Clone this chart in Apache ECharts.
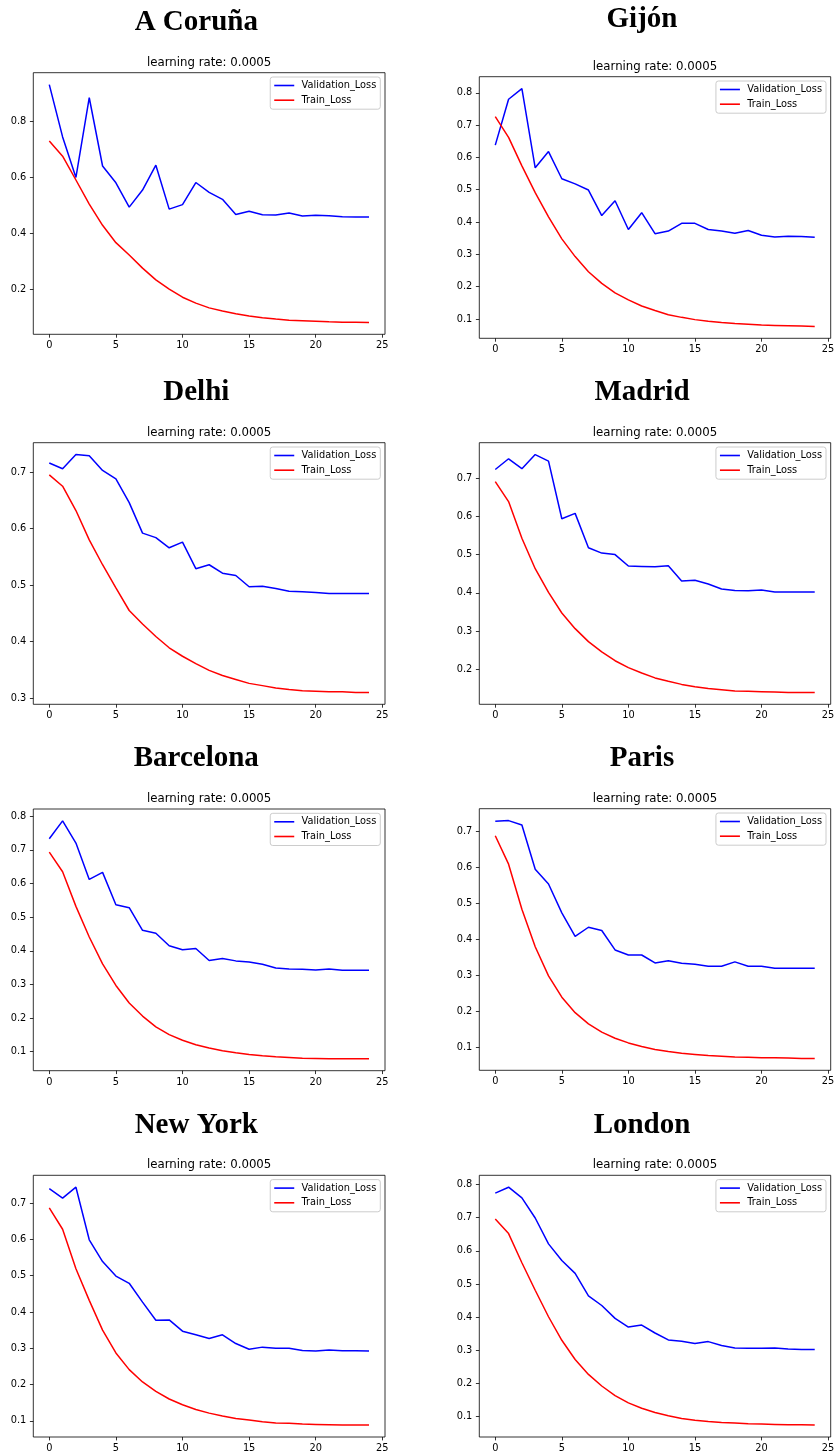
<!DOCTYPE html>
<html><head><meta charset="utf-8">
<script src="https://cdn.jsdelivr.net/npm/echarts@6/dist/echarts.min.js"></script>
<style>html,body{margin:0;padding:0;background:#fff}#c{width:835px;height:1454px}</style>
</head><body><div id="c"></div>
<script>
// ---------- data ----------
const epochs = [0,1,2,3,4,5,6,7,8,9,10,11,12,13,14,15,16,17,18,19,20,21,22,23,24];
const subtitle = 'learning rate: 0.0005';
const seriesNames = ['Validation_Loss', 'Train_Loss'];
const xTicks = [0,5,10,15,20,25];

const cityNames = ['A Coruña','Gijón','Delhi','Madrid','Barcelona','Paris','New York','London'];

const valCoruna   = [0.931,0.744,0.599,0.884,0.640,0.580,0.493,0.554,0.643,0.486,0.502,0.581,0.546,0.521,0.467,0.478,0.466,0.465,0.472,0.461,0.464,0.462,0.459,0.458,0.458];
const trainCoruna = [0.729,0.675,0.590,0.504,0.428,0.366,0.322,0.275,0.233,0.200,0.171,0.150,0.133,0.122,0.112,0.104,0.098,0.093,0.089,0.087,0.085,0.083,0.082,0.082,0.081];
const yTicksCoruna = [0.2,0.4,0.6,0.8];

const valGijon   = [0.638,0.780,0.813,0.568,0.618,0.534,0.518,0.499,0.420,0.466,0.377,0.429,0.364,0.372,0.396,0.396,0.377,0.372,0.365,0.374,0.359,0.354,0.356,0.355,0.353];
const trainGijon = [0.726,0.662,0.574,0.491,0.416,0.348,0.293,0.246,0.210,0.181,0.159,0.140,0.126,0.113,0.105,0.098,0.093,0.089,0.086,0.084,0.081,0.080,0.079,0.078,0.077];
const yTicksGijon = [0.1,0.2,0.3,0.4,0.5,0.6,0.7,0.8];

const valDelhi   = [0.716,0.706,0.731,0.729,0.703,0.688,0.646,0.592,0.584,0.566,0.576,0.529,0.536,0.521,0.517,0.497,0.498,0.494,0.489,0.488,0.487,0.485,0.485,0.485,0.485];
const trainDelhi = [0.695,0.675,0.632,0.580,0.536,0.495,0.455,0.431,0.409,0.389,0.374,0.361,0.349,0.340,0.333,0.326,0.322,0.318,0.315,0.313,0.312,0.311,0.311,0.310,0.310];
const yTicksDelhi = [0.3,0.4,0.5,0.6,0.7];

const valMadrid   = [0.723,0.751,0.725,0.762,0.745,0.594,0.608,0.518,0.504,0.500,0.470,0.469,0.468,0.471,0.431,0.433,0.423,0.410,0.406,0.405,0.407,0.402,0.402,0.402,0.402];
const trainMadrid = [0.691,0.639,0.543,0.463,0.401,0.347,0.306,0.272,0.245,0.222,0.204,0.190,0.177,0.168,0.160,0.154,0.149,0.146,0.143,0.142,0.141,0.140,0.139,0.139,0.139];
const yTicksMadrid = [0.2,0.3,0.4,0.5,0.6,0.7];

const valBarcelona   = [0.733,0.786,0.720,0.612,0.633,0.537,0.528,0.461,0.452,0.415,0.403,0.407,0.371,0.377,0.370,0.367,0.360,0.349,0.346,0.345,0.343,0.346,0.342,0.342,0.342];
const trainBarcelona = [0.693,0.635,0.532,0.441,0.361,0.297,0.245,0.206,0.174,0.151,0.134,0.121,0.111,0.103,0.097,0.092,0.088,0.085,0.083,0.081,0.080,0.079,0.079,0.079,0.079];
const yTicksBarcelona = [0.1,0.2,0.3,0.4,0.5,0.6,0.7,0.8];

const valParis   = [0.728,0.730,0.718,0.595,0.554,0.474,0.409,0.434,0.425,0.371,0.357,0.357,0.335,0.341,0.334,0.331,0.326,0.326,0.338,0.326,0.326,0.320,0.320,0.320,0.320];
const trainParis = [0.688,0.609,0.484,0.380,0.299,0.240,0.197,0.166,0.143,0.126,0.113,0.103,0.095,0.089,0.084,0.081,0.078,0.076,0.074,0.073,0.072,0.072,0.071,0.070,0.070];
const yTicksParis = [0.1,0.2,0.3,0.4,0.5,0.6,0.7];

const valNewYork   = [0.740,0.714,0.744,0.599,0.539,0.499,0.479,0.427,0.377,0.378,0.347,0.337,0.327,0.337,0.313,0.297,0.303,0.300,0.300,0.294,0.292,0.295,0.293,0.293,0.292];
const trainNewYork = [0.687,0.628,0.519,0.432,0.350,0.287,0.241,0.207,0.181,0.160,0.144,0.131,0.121,0.113,0.106,0.102,0.097,0.094,0.093,0.091,0.090,0.089,0.088,0.088,0.088];
const yTicksNewYork = [0.1,0.2,0.3,0.4,0.5,0.6,0.7];

const valLondon   = [0.774,0.792,0.760,0.699,0.621,0.571,0.532,0.464,0.435,0.396,0.370,0.376,0.352,0.331,0.327,0.320,0.326,0.314,0.307,0.306,0.306,0.307,0.304,0.302,0.302];
const trainLondon = [0.696,0.652,0.564,0.481,0.401,0.330,0.272,0.227,0.192,0.163,0.141,0.125,0.112,0.102,0.094,0.089,0.085,0.082,0.080,0.078,0.077,0.076,0.075,0.075,0.074];
const yTicksLondon = [0.1,0.2,0.3,0.4,0.5,0.6,0.7,0.8];

const valList   = [valCoruna, valGijon, valDelhi, valMadrid, valBarcelona, valParis, valNewYork, valLondon];
const trainList = [trainCoruna, trainGijon, trainDelhi, trainMadrid, trainBarcelona, trainParis, trainNewYork, trainLondon];
const yTickList = [yTicksCoruna, yTicksGijon, yTicksDelhi, yTicksMadrid, yTicksBarcelona, yTicksParis, yTicksNewYork, yTicksLondon];

// ---------- layout ----------
const W = 835;
const frames = [
  [33.3, 72.7, 385, 334.3],
  [479.3, 76.7, 830.7, 338.3],
  [33.3, 442.7, 385, 704.3],
  [479.3, 442.7, 830.7, 704.3],
  [33.3, 809, 385, 1070.7],
  [479.3, 808.7, 830.7, 1070.3],
  [33.3, 1175.3, 385, 1437],
  [479.3, 1175.3, 830.7, 1437]
];
const titleCY = [22.5, 19.5, 392.5, 392.5, 758.5, 758.5, 1125.5, 1125.5];
const titleCX = [196.3, 642, 196.3, 642, 196.3, 642, 196.3, 642];

const tickFont = {fontFamily: 'DejaVu Sans', fontSize: 9.8, color: '#000'};
const BLUE = '#0000ff', RED = '#ff0000';

const grid = [], xAxis = [], yAxis = [], series = [], legend = [], graphic = [];
const X_MIN = -1.2, X_MAX = 25.2;

cityNames.forEach((name, i) => {
  const [l, t, r, b] = frames[i];
  grid.push({left: l, top: t, width: r - l, height: b - t, show: true,
    borderColor: '#000', borderWidth: 0.8, backgroundColor: 'transparent',
    containLabel: false, outerBoundsMode: 'none'});
  const all = valList[i].concat(trainList[i]);
  const lo = Math.min(...all), hi = Math.max(...all);
  const pad = 0.05 * (hi - lo);
  xAxis.push({gridIndex: i, type: 'value', position: 'bottom', min: X_MIN, max: X_MAX,
    splitLine: {show: false}, axisLine: {show: false, onZero: false},
    axisTick: {show: true, length: 3.4, inside: false, customValues: xTicks, lineStyle: {color: '#000', width: 0.8}},
    axisLabel: Object.assign({customValues: xTicks, margin: 6.5, formatter: v => String(v)}, tickFont)});
  yAxis.push({gridIndex: i, type: 'value', position: 'left', min: lo - pad, max: hi + pad,
    splitLine: {show: false}, axisLine: {show: false, onZero: false},
    axisTick: {show: true, length: 3.4, inside: false, customValues: yTickList[i], lineStyle: {color: '#000', width: 0.8}},
    axisLabel: Object.assign({customValues: yTickList[i], margin: 7, formatter: v => v.toFixed(1)}, tickFont)});
  series.push({type: 'line', name: seriesNames[0], xAxisIndex: i, yAxisIndex: i,
    data: epochs.map((e, k) => [e, valList[i][k]]),
    symbol: 'none', showSymbol: false, smooth: false, silent: true,
    lineStyle: {color: BLUE, width: 1.5}, itemStyle: {color: BLUE}, z: 2});
  series.push({type: 'line', name: seriesNames[1], xAxisIndex: i, yAxisIndex: i,
    data: epochs.map((e, k) => [e, trainList[i][k]]),
    symbol: 'none', showSymbol: false, smooth: false, silent: true,
    lineStyle: {color: RED, width: 1.5}, itemStyle: {color: RED}, z: 3});
  legend.push({data: seriesNames, orient: 'vertical', right: W - (r - 4.7), top: t + 4.3,
    icon: 'rect', itemWidth: 20, itemHeight: 1.6, itemGap: 2.7,
    padding: [2.5, 4, 3, 4], borderColor: '#cccccc', borderWidth: 1, borderRadius: 2.5,
    backgroundColor: 'rgba(255,255,255,0.8)', selectedMode: false,
    textStyle: {fontFamily: 'DejaVu Sans', fontSize: 9.8, color: '#000', lineHeight: 12, padding: [0, 0, 0, 2.3]}});
  graphic.push({type: 'text', x: titleCX[i], y: titleCY[i], silent: true,
    style: {text: name, font: 'bold 29px "Liberation Serif"', fill: '#000',
      textAlign: 'center', textVerticalAlign: 'middle', align: 'center', verticalAlign: 'middle'}});
  graphic.push({type: 'text', x: (l + r) / 2, y: t - 10, silent: true,
    style: {text: subtitle, font: '11.76px "DejaVu Sans"', fill: '#000',
      textAlign: 'center', textVerticalAlign: 'middle', align: 'center', verticalAlign: 'middle'}});
});

const chart = echarts.init(document.getElementById('c'), null, {renderer: 'canvas'});
chart.setOption({animation: false, backgroundColor: '#fff', grid, xAxis, yAxis, series, legend, graphic});
</script></body></html>
